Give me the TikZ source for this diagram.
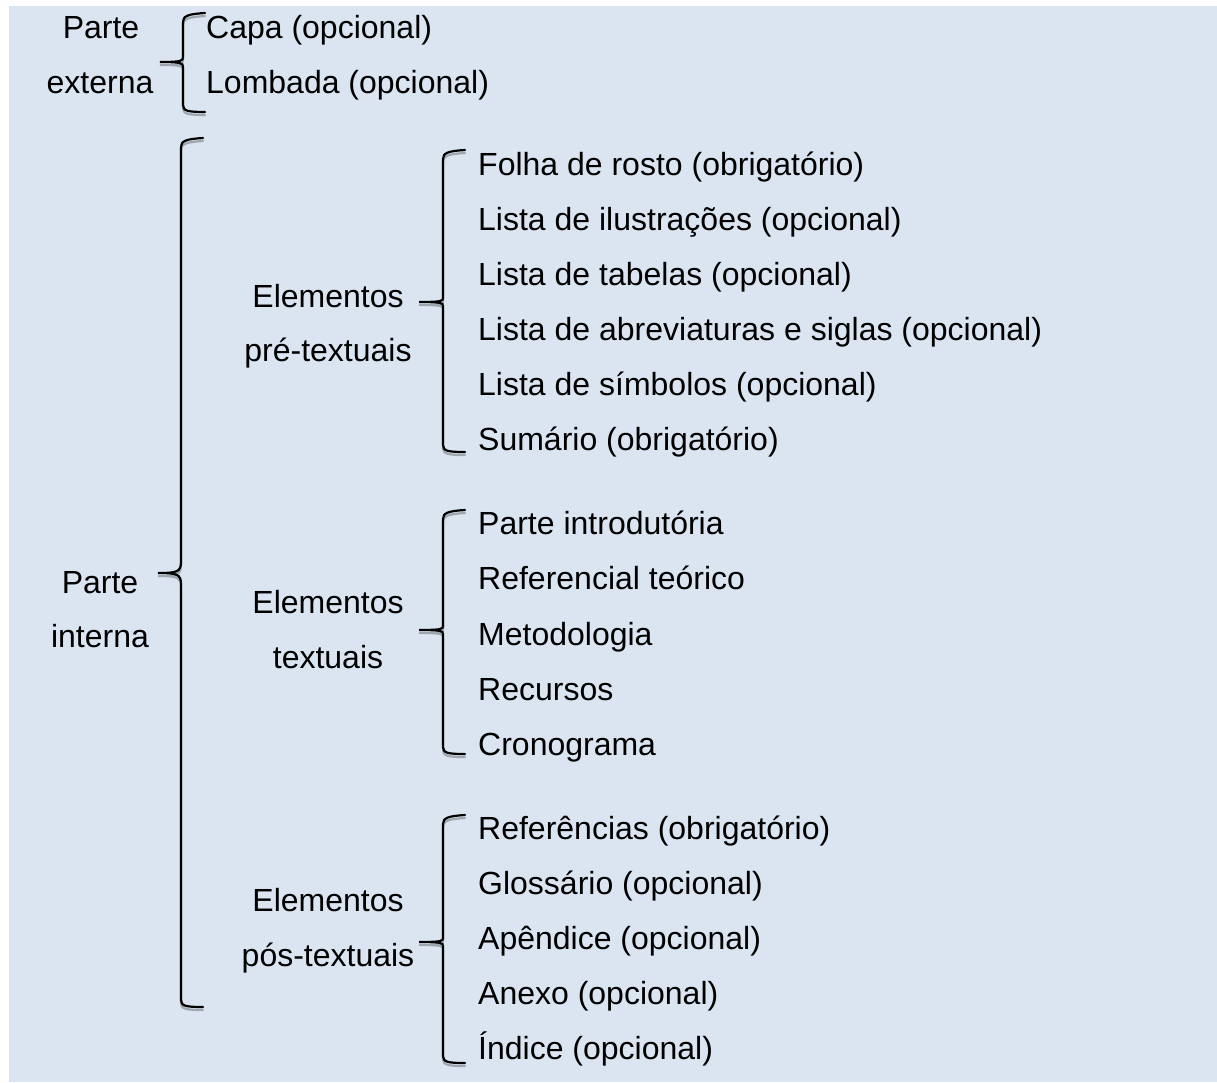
\documentclass[tikz,border=0pt]{standalone}
\usepackage{fontspec}
\setmainfont{Liberation Sans}
\usepackage{xcolor}
\usepackage{tikz}
\usetikzlibrary{positioning}
\definecolor{panelblue}{RGB}{219,229,241}
\definecolor{braceshade}{RGB}{160,166,174}

% brace: x, top, bottom, tip y, tip x, tip bend
\newcommand{\wordbrace}[6]{%
  \foreach \dy/\col in {3/braceshade, 0/black}{
    \draw[line width=2.2pt, \col, yshift=-\dy pt, line cap=round]
      (#1+22,#2) .. controls (#1+5,#2+1) and (#1,#2+3) .. (#1,#2+9)
      -- (#1,#4-#6-2) .. controls (#1,#4-1) and (#1-#6/2,#4) .. (#5,#4)
      .. controls (#1-#6/2,#4) and (#1,#4+1) .. (#1,#4+#6+2)
      -- (#1,#3-7) .. controls (#1,#3-1) and (#1+5,#3) .. (#1+22,#3);
  }}

\begin{document}
\begin{tikzpicture}[x=1pt, y=-1pt,
    every node/.style={inner sep=0pt, font=\fontsize{32}{38}\selectfont},
    item/.style={anchor=base west},
    group/.style={anchor=base}]
  \useasboundingbox (0,0) rectangle (1217,1082);
  \fill[panelblue] (9,6) rectangle (1217,1082);

  % parte externa
  \node[group] (ext-a) at (101,38) {Parte};
  \node[group] (ext-b) at (100,93) {externa};
  \wordbrace{183}{13}{112}{62}{160}{3}
  \node[item] (capa) at (206,38) {Capa (opcional)};
  \node[item] (lomb) at (206,93) {Lombada (opcional)};

  % parte interna
  \node[group] (int-a) at (100,593) {Parte};
  \node[group] (int-b) at (100,647) {interna};
  \wordbrace{181}{138}{1007}{573}{158}{9}

  % pre-textuais
  \node[group] (pre-a) at (328,307) {Elementos};
  \node[group] (pre-b) at (328,361) {pré-textuais};
  \wordbrace{443}{150}{452}{302}{419}{2}
  \node[item] (pre1) at (478,175) {Folha de rosto (obrigatório)};
  \node[item] (pre2) at (478,230) {Lista de ilustrações (opcional)};
  \node[item] (pre3) at (478,285) {Lista de tabelas (opcional)};
  \node[item] (pre4) at (478,340) {Lista de abreviaturas e siglas (opcional)};
  \node[item] (pre5) at (478,395) {Lista de símbolos (opcional)};
  \node[item] (pre6) at (478,450) {Sumário (obrigatório)};

  % textuais
  \node[group] (txt-a) at (328,613) {Elementos};
  \node[group] (txt-b) at (328,668) {textuais};
  \wordbrace{443}{510}{754}{630}{419}{2}
  \node[item] (txt1) at (478,534) {Parte introdutória};
  \node[item] (txt2) at (478,589) {Referencial teórico};
  \node[item] (txt3) at (478,645) {Metodologia};
  \node[item] (txt4) at (478,700) {Recursos};
  \node[item] (txt5) at (478,755) {Cronograma};

  % pos-textuais
  \node[group] (pos-a) at (328,911) {Elementos};
  \node[group] (pos-b) at (328,966) {pós-textuais};
  \wordbrace{443}{815}{1063}{942}{419}{2}
  \node[item] (pos1) at (478,839) {Referências (obrigatório)};
  \node[item] (pos2) at (478,894) {Glossário (opcional)};
  \node[item] (pos3) at (478,949) {Apêndice (opcional)};
  \node[item] (pos4) at (478,1004) {Anexo (opcional)};
  \node[item] (pos5) at (478,1059) {Índice (opcional)};
\end{tikzpicture}
\end{document}
